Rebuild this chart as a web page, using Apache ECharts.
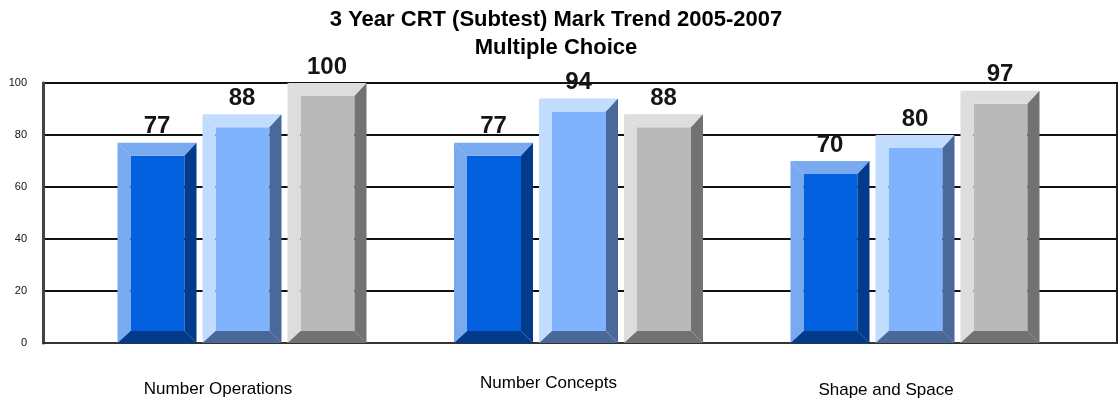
<!DOCTYPE html>
<html>
<head>
<meta charset="utf-8">
<title>3 Year CRT (Subtest) Mark Trend 2005-2007</title>
<script src="https://cdn.jsdelivr.net/npm/echarts@6/dist/echarts.min.js"></script>
<style>
  html, body { margin: 0; padding: 0; background: #ffffff; }
  #chart { width: 1118px; height: 412px; }
</style>
</head>
<body>
<div id="chart"></div>
<script>
// Subtest names and the multiple-choice mark for each year
const categories = ['Number Operations', 'Number Concepts', 'Shape and Space'];
const years = ['2005', '2006', '2007'];
const marks2005 = [77, 77, 70];
const marks2006 = [88, 94, 80];
const marks2007 = [100, 88, 97];
const yMin = 0;
const yMax = 100;
const yStep = 20;

// Bevelled bar look: face, light edge (top/left), dark edge (right/bottom)
const palettes = [
  { face: '#0361e0', light: '#79a9ee', dark: '#023a8c' },
  { face: '#80b3fd', light: '#c1dcff', dark: '#4a6898' },
  { face: '#b9b9b9', light: '#dddddd', dark: '#727272' }
];
const BAR_W = 79;
const PITCH = 85;
const BEVEL = { l: 13, t: 13, r: 12, b: 12 };
const FONT = '"Liberation Sans", Arial, sans-serif';

// Per-label nudges for the category names: [top, right, bottom, left]
const labelPad = [[6, 48, 0, 0], [0, 60, 0, 0], [7, 58, 0, 0]];

function renderBevelBar(params, api) {
  const cat = api.value(0);
  const v = api.value(1);
  const base = api.coord([cat, 0]);
  const top = api.coord([cat, v]);
  const pal = palettes[params.seriesIndex];
  const cx = base[0] + (params.seriesIndex - 1) * PITCH;
  const x0 = cx - BAR_W / 2, x1 = cx + BAR_W / 2;
  const y0 = top[1], y1 = base[1];
  const b = BEVEL;
  const poly = (pts, fill) => ({ type: 'polygon', shape: { points: pts }, style: { fill: fill } });
  return {
    type: 'group',
    children: [
      { type: 'rect', shape: { x: x0 + b.l, y: y0 + b.t, width: BAR_W - b.l - b.r, height: (y1 - y0) - b.t - b.b }, style: { fill: pal.face } },
      poly([[x0, y0], [x1, y0], [x1 - b.r, y0 + b.t], [x0 + b.l, y0 + b.t]], pal.light),
      poly([[x0, y0], [x0 + b.l, y0 + b.t], [x0 + b.l, y1 - b.b], [x0, y1]], pal.light),
      poly([[x1, y0], [x1, y1], [x1 - b.r, y1 - b.b], [x1 - b.r, y0 + b.t]], pal.dark),
      poly([[x0, y1], [x0 + b.l, y1 - b.b], [x1 - b.r, y1 - b.b], [x1, y1]], pal.dark),
      {
        type: 'text',
        style: {
          text: String(v), x: cx, y: y0 - 4,
          align: 'center', verticalAlign: 'bottom',
          font: 'bold 24px ' + FONT, fill: '#151515'
        }
      }
    ]
  };
}

const seriesData = [marks2005, marks2006, marks2007];

const chart = echarts.init(document.getElementById('chart'), null, { renderer: 'canvas' });
chart.setOption({
  backgroundColor: '#ffffff',
  animation: false,
  title: {
    text: '3 Year CRT (Subtest) Mark Trend 2005-2007\nMultiple Choice',
    left: 551,
    top: 1,
    textAlign: 'center',
    textStyle: { fontFamily: FONT, fontWeight: 'bold', fontSize: 22, lineHeight: 28, color: '#000' }
  },
  grid: [
    { left: 43, right: 1, top: 83, bottom: 69, show: true, borderColor: '#222', borderWidth: 2, backgroundColor: 'transparent' },
    { left: 73.75, right: 34.75, top: 83, bottom: 69 }
  ],
  xAxis: [
    {
      gridIndex: 0, type: 'category', data: categories,
      axisLine: { show: true, lineStyle: { color: '#333', width: 2 } },
      axisTick: { show: false }, axisLabel: { show: false }, splitLine: { show: false }
    },
    {
      gridIndex: 1, type: 'category',
      data: categories.map((c, i) => ({ value: c, textStyle: { padding: labelPad[i] } })),
      axisLine: { show: false }, axisTick: { show: false },
      axisLabel: { margin: 31.5, fontFamily: FONT, fontSize: 17, color: '#000' }
    }
  ],
  yAxis: [
    {
      gridIndex: 0, type: 'value', min: yMin, max: yMax, interval: yStep,
      axisLine: { show: true, lineStyle: { color: '#444', width: 3 } },
      axisTick: { show: false },
      axisLabel: { margin: 16, fontFamily: FONT, fontSize: 11, color: '#111' },
      splitLine: { show: true, lineStyle: { color: '#111', width: 2 } }
    },
    {
      gridIndex: 1, type: 'value', min: yMin, max: yMax, interval: yStep,
      show: false
    }
  ],
  series: years.map((y, s) => ({
    name: y,
    type: 'custom',
    xAxisIndex: 1,
    yAxisIndex: 1,
    renderItem: renderBevelBar,
    encode: { x: 0, y: 1 },
    clip: false,
    data: seriesData[s].map((v, i) => [i, v])
  }))
});
</script>
</body>
</html>
